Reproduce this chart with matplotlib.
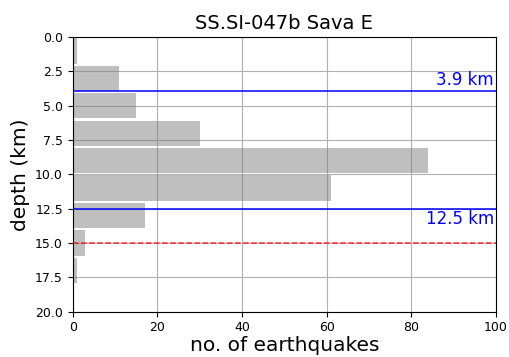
import matplotlib
matplotlib.use("Agg")
import matplotlib.pyplot as plt
import numpy as np

# depth histogram, 2 km bins
bin_edges = [0, 2, 4, 6, 8, 10, 12, 14, 16, 18, 20]
counts = [1, 11, 15, 30, 84, 61, 17, 3, 1, 0]
upper_depth = 3.9
lower_depth = 12.5
ref_depth = 15.0

edges = np.asarray(bin_edges, dtype=float)
centers = 0.5 * (edges[:-1] + edges[1:])

fig = plt.figure(figsize=(5.1, 3.57), dpi=100)
ax = fig.add_axes([0.1425, 0.127, 0.83, 0.769])

ax.barh(centers, counts, height=1.85, color="gray", alpha=0.5, zorder=2)
ax.axhline(upper_depth, color="blue", lw=1.1, zorder=3)
ax.axhline(lower_depth, color="blue", lw=1.1, zorder=3)
ax.axhline(ref_depth, color="red", ls="--", lw=1.1, alpha=0.8, zorder=3)

ax.text(99.5, upper_depth - 0.1, f"{upper_depth} km", color="blue", fontsize=12,
        ha="right", va="bottom")
ax.text(99.5, lower_depth + 0.1, f"{lower_depth} km", color="blue", fontsize=12,
        ha="right", va="top")

ax.set_xlim(0, 100)
ax.set_ylim(20, 0)
ax.set_yticks(np.arange(0, 20.1, 2.5))
ax.tick_params(labelsize=9)
ax.grid(True, zorder=0)
ax.set_axisbelow(True)
ax.set_xlabel("no. of earthquakes", fontsize=14.5, labelpad=1)
ax.set_ylabel("depth (km)", fontsize=14.5)
ax.set_title("SS.SI-047b Sava E", fontsize=14)

fig.savefig("out.png", dpi=100)
